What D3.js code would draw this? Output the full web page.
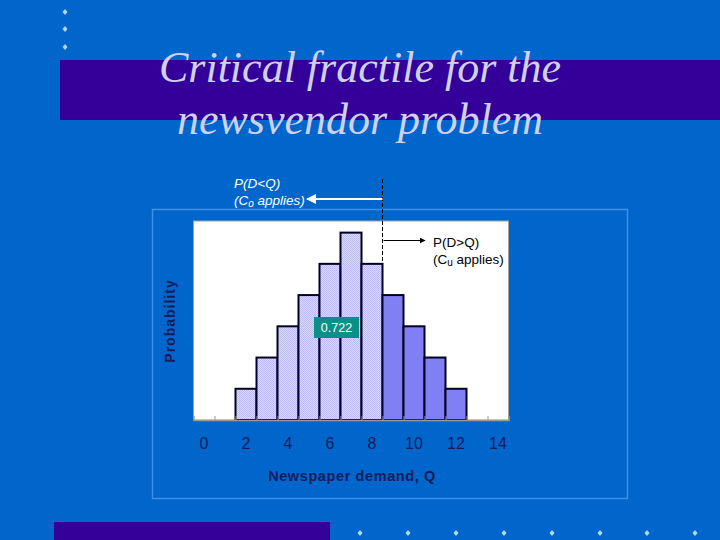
<!DOCTYPE html>
<html><head><meta charset="utf-8">
<script src="https://cdn.jsdelivr.net/npm/d3@7"></script>
<style>html,body{margin:0;padding:0;background:#0066cc;}svg{display:block;}</style>
</head><body>
<script>
// ---- data ----
const demand = [2,3,4,5,6,7,8,9,10,11,12];
const probability = [1/36,2/36,3/36,4/36,5/36,6/36,5/36,4/36,3/36,2/36,1/36];
const xTickLabels = [0,2,4,6,8,10,12,14];
const criticalQ = 8;
const cumulativeLabel = "0.722";
const titleLines = ["Critical fractile for the","newsvendor problem"];
const xTitle = "Newspaper demand, Q";
const yTitle = "Probability";

const W=720,H=540;
const svg=d3.select("body").append("svg").attr("width",W).attr("height",H);
const defs=svg.append("defs");
const pat=defs.append("pattern").attr("id","dither").attr("width",2).attr("height",2).attr("patternUnits","userSpaceOnUse");
pat.append("rect").attr("width",2).attr("height",2).attr("fill","#d8d8fa");
pat.append("rect").attr("width",1).attr("height",1).attr("fill","#bcbcf0");
pat.append("rect").attr("x",1).attr("y",1).attr("width",1).attr("height",1).attr("fill","#bcbcf0");
const arrW=defs.append("marker").attr("id","arrW").attr("viewBox","0 0 10 10").attr("refX",9).attr("refY",5)
 .attr("markerWidth",5).attr("markerHeight",5).attr("orient","auto-start-reverse");
arrW.append("path").attr("d","M0,0L10,5L0,10z").attr("fill","#ffffff");
const arrB=defs.append("marker").attr("id","arrB").attr("viewBox","0 0 10 10").attr("refX",9).attr("refY",5)
 .attr("markerWidth",5).attr("markerHeight",5).attr("orient","auto");
arrB.append("path").attr("d","M0,0L10,5L0,10z").attr("fill","#000000");

// background
svg.append("rect").attr("width",W).attr("height",H).attr("fill","#0066cc");
// title band
svg.append("rect").attr("x",60).attr("y",60).attr("width",660).attr("height",60).attr("fill","#330099");
// top-left bullets
[12,29,47].forEach(y=>svg.append("path").attr("transform",`translate(65,${y})`)
  .attr("d","M0,-3L2.5,0L0,3L-2.5,0Z").attr("fill","#b8d4f4"));
// bottom band
svg.append("rect").attr("x",54).attr("y",522).attr("width",276).attr("height",18).attr("fill","#330099");
[360,408,456,504,552,600,647,695].forEach(x=>svg.append("path").attr("transform",`translate(${x},533)`)
  .attr("d","M0,-3L2.5,0L0,3L-2.5,0Z").attr("fill","#b8d4f4"));

// title
const title=svg.append("text").attr("text-anchor","middle")
  .attr("font-family","'Liberation Serif','Times New Roman',serif").attr("font-style","italic")
  .attr("font-size",44).attr("fill","#d0d0f0");
title.append("tspan").attr("x",360).attr("y",82).text(titleLines[0]);
title.append("tspan").attr("x",360).attr("y",134).text(titleLines[1]);

// panel border
svg.append("rect").attr("x",152.5).attr("y",209.5).attr("width",475).attr("height",289)
  .attr("fill","none").attr("stroke","#3f8fe6").attr("stroke-width",1.5);

// plot area
const pl=193.5, pr=508.5, pt=221, pb=420;
svg.append("rect").attr("x",pl).attr("y",pt).attr("width",pr-pl).attr("height",pb-pt)
  .attr("fill","#ffffff").attr("stroke","#a0a0a0").attr("stroke-width",1);

const x=d3.scaleLinear().domain([-0.5,14.5]).range([pl,pr]);
const y=d3.scaleLinear().domain([0,0.177]).range([pb,pt]);

// bars
svg.append("g").selectAll("rect").data(demand).join("rect")
  .attr("x",d=>x(d-0.5)).attr("width",d=>x(d+0.5)-x(d-0.5))
  .attr("y",(d,i)=>y(probability[i])).attr("height",(d,i)=>y(0)-y(probability[i]))
  .attr("fill",d=>d<=criticalQ?"url(#dither)":"#8080f4")
  .attr("stroke","#000022").attr("stroke-width",2);

// x axis baseline & ticks
const xAxis=d3.axisBottom(x).tickValues(d3.range(0.5,14.5,1)).tickSize(-4).tickFormat("");
const ga=svg.append("g").attr("transform",`translate(0,${pb})`).call(xAxis);
ga.select(".domain").attr("stroke","#9a9a9a").attr("stroke-width",1.5);
ga.selectAll(".tick line").attr("stroke","#9a9a9a");
// tick labels
svg.append("g").selectAll("text").data(xTickLabels).join("text")
  .attr("x",d=>x(d)).attr("y",449).attr("text-anchor","middle")
  .attr("font-family","'Liberation Sans',Arial,sans-serif").attr("font-size",16)
  .attr("fill","#161c5a").text(d=>d);

// axis titles
svg.append("text").attr("x",352).attr("y",481).attr("text-anchor","middle")
  .attr("font-family","'Liberation Sans',Arial,sans-serif").attr("font-weight","bold")
  .attr("font-size",14.5).attr("letter-spacing",0.6).attr("fill","#161c5a").text(xTitle);
svg.append("text").attr("transform","translate(175,321) rotate(-90)").attr("text-anchor","middle")
  .attr("font-family","'Liberation Sans',Arial,sans-serif").attr("font-weight","bold")
  .attr("font-size",14).attr("letter-spacing",1).attr("fill","#161c5a").text(yTitle);

// dashed line at Q
const qx=x(criticalQ+0.5);
svg.append("line").attr("x1",qx).attr("x2",qx).attr("y1",179).attr("y2",y(probability[demand.indexOf(criticalQ)]))
  .attr("stroke","#000000").attr("stroke-width",1).attr("stroke-dasharray","4,2");

// left annotation (white)
svg.append("line").attr("x1",qx).attr("x2",307).attr("y1",199).attr("y2",199)
  .attr("stroke","#ffffff").attr("stroke-width",2).attr("marker-end","url(#arrW)");
const fs=13.5;
svg.append("text").attr("x",234).attr("y",188).attr("font-family","'Liberation Sans',Arial,sans-serif").attr("font-style","italic")
  .attr("font-size",fs).attr("fill","#ffffff").text("P(D<Q)");
const lt2=svg.append("text").attr("x",234).attr("y",205).attr("font-family","'Liberation Sans',Arial,sans-serif")
  .attr("font-style","italic").attr("font-size",fs).attr("fill","#ffffff");
lt2.append("tspan").text("(C");
lt2.append("tspan").attr("font-size",10).attr("dy",2).text("o");
lt2.append("tspan").attr("dy",-2).text(" applies)");

// right annotation (black)
svg.append("line").attr("x1",qx+1).attr("x2",425).attr("y1",240.5).attr("y2",240.5)
  .attr("stroke","#000000").attr("stroke-width",1.2).attr("marker-end","url(#arrB)");
svg.append("text").attr("x",433).attr("y",247).attr("font-family","'Liberation Sans',Arial,sans-serif")
  .attr("font-size",fs).attr("fill","#000000").text("P(D>Q)");
const rt2=svg.append("text").attr("x",433).attr("y",264).attr("font-family","'Liberation Sans',Arial,sans-serif")
  .attr("font-size",fs).attr("fill","#000000");
rt2.append("tspan").text("(C");
rt2.append("tspan").attr("font-size",10).attr("dy",2).text("u");
rt2.append("tspan").attr("dy",-2).text(" applies)");

// cumulative label box
svg.append("rect").attr("x",314).attr("y",317).attr("width",45).attr("height",21).attr("fill","#0a9088");
svg.append("text").attr("x",336.5).attr("y",332).attr("text-anchor","middle")
  .attr("font-family","'Liberation Sans',Arial,sans-serif").attr("font-size",12.5).attr("fill","#ffffff").text(cumulativeLabel);
</script>
</body></html>
